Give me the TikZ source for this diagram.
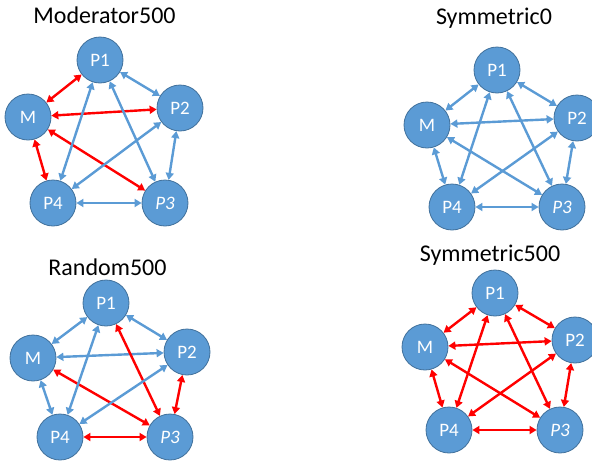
\documentclass[tikz,border=0pt]{standalone}
\usepackage{fontspec}
\setmainfont{Carlito}
\usetikzlibrary{arrows.meta}
\definecolor{nodefill}{HTML}{5B9BD5}
\definecolor{nodeline}{HTML}{41719C}
\definecolor{edgeblue}{HTML}{5B9BD5}
\definecolor{edgered}{HTML}{FF0000}
\begin{document}
\begin{tikzpicture}[x=1pt,y=-1pt,
  agent/.style={circle, fill=nodefill, draw=nodeline, line width=0.8pt, minimum size=46pt, inner sep=0pt, text=white, font=\fontsize{19}{19}\selectfont},
  ptitle/.style={font=\fontsize{24}{24}\selectfont, text=black, inner sep=0pt},
  link/.style={line width=2.4pt, {Triangle[length=7pt,width=8pt]}-{Triangle[length=7pt,width=8pt]}},
  bl/.style={link, draw=edgeblue},
  rd/.style={link, draw=edgered}]
\useasboundingbox (0,0) rectangle (592,461);
\clip (0,0) rectangle (592,461);

% Panel A: Moderator500
\node[ptitle] (ta) at (104.5,15) {Moderator500};
\node[agent] (aP1) at (100,60) {P1};
\node[agent] (aM) at (28,117) {M};
\node[agent] (aP2) at (180,108) {P2};
\node[agent] (aP4) at (53,203) {P4};
\node[agent] (aP3) at (165,203) {\itshape P3};
\draw[rd] (aM) -- (aP1);
\draw[rd] (aM) -- (aP2);
\draw[rd] (aM) -- (aP3);
\draw[rd] (aM) -- (aP4);
\draw[bl] (aP1) -- (aP2);
\draw[bl] (aP1) -- (aP3);
\draw[bl] (aP1) -- (aP4);
\draw[bl] (aP2) -- (aP3);
\draw[bl] (aP2) -- (aP4);
\draw[bl] (aP3) -- (aP4);

% Panel B: Symmetric0
\node[ptitle] (tb) at (494,18) {Symmetric0};
\node[agent] (bP1) at (497,70) {P1};
\node[agent] (bM) at (427,125) {M};
\node[agent] (bP2) at (577,118) {P2};
\node[agent] (bP4) at (452,207) {P4};
\node[agent] (bP3) at (562,207) {\itshape P3};
\draw[bl] (bM) -- (bP1);
\draw[bl] (bM) -- (bP2);
\draw[bl] (bM) -- (bP3);
\draw[bl] (bM) -- (bP4);
\draw[bl] (bP1) -- (bP2);
\draw[bl] (bP1) -- (bP3);
\draw[bl] (bP1) -- (bP4);
\draw[bl] (bP2) -- (bP3);
\draw[bl] (bP2) -- (bP4);
\draw[bl] (bP3) -- (bP4);

% Panel C: Random500
\node[ptitle] (tc) at (107.5,267) {Random500};
\node[agent] (cP1) at (106,303) {P1};
\node[agent] (cM) at (33,358) {M};
\node[agent] (cP2) at (187,352) {P2};
\node[agent] (cP4) at (60,437) {P4};
\node[agent] (cP3) at (170,437) {\itshape P3};
\draw[bl] (cM) -- (cP1);
\draw[bl] (cM) -- (cP2);
\draw[rd] (cM) -- (cP3);
\draw[bl] (cM) -- (cP4);
\draw[bl] (cP1) -- (cP2);
\draw[rd] (cP1) -- (cP3);
\draw[bl] (cP1) -- (cP4);
\draw[rd] (cP2) -- (cP3);
\draw[bl] (cP2) -- (cP4);
\draw[rd] (cP3) -- (cP4);

% Panel D: Symmetric500
\node[ptitle] (td) at (490,255) {Symmetric500};
\node[agent] (dP1) at (495,293) {P1};
\node[agent] (dM) at (425,347) {M};
\node[agent] (dP2) at (575,340) {P2};
\node[agent] (dP4) at (449,430) {P4};
\node[agent] (dP3) at (560,430) {\itshape P3};
\draw[rd] (dM) -- (dP1);
\draw[rd] (dM) -- (dP2);
\draw[rd] (dM) -- (dP3);
\draw[rd] (dM) -- (dP4);
\draw[rd] (dP1) -- (dP2);
\draw[rd] (dP1) -- (dP3);
\draw[rd] (dP1) -- (dP4);
\draw[rd] (dP2) -- (dP3);
\draw[rd] (dP2) -- (dP4);
\draw[rd] (dP3) -- (dP4);
\end{tikzpicture}
\end{document}
